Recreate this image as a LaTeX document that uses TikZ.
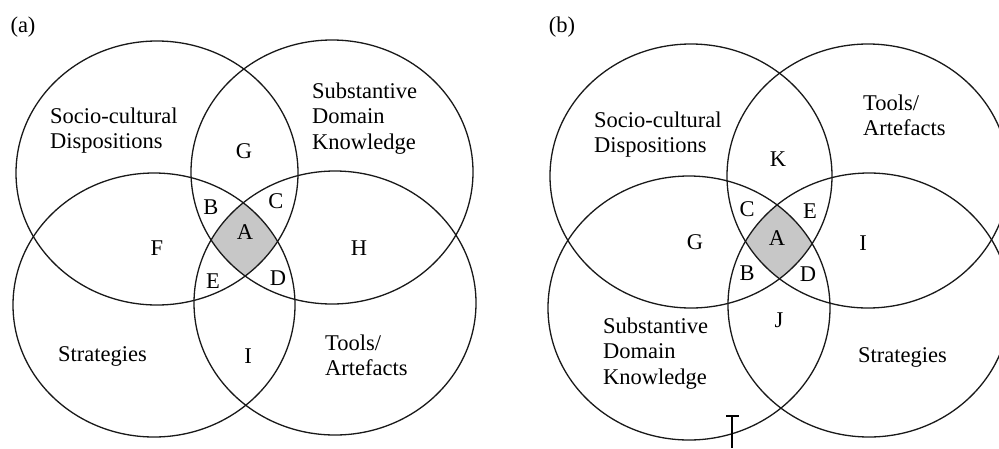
\documentclass[tikz,border=0pt]{standalone}
\usepackage{fontspec}
\setmainfont{Liberation Serif}
\begin{document}
\begin{tikzpicture}[x=1pt,y=-1pt,
  ring/.style={draw=black!90,line width=1.3pt},
  lbl/.style={inner sep=0pt,font=\fontsize{22.5}{25.5}\selectfont},
  blk/.style={lbl,align=left,anchor=north west}]
\useasboundingbox (0,0) rectangle (999,448);
\fill[white] (0,0) rectangle (999,448);
% ---------- panel (a) ----------
\begin{scope}
\clip (157,173) ellipse [x radius=141pt, y radius=132pt];
\clip (332,172) ellipse [x radius=141pt, y radius=132pt];
\clip (154,305) ellipse [x radius=141pt, y radius=132pt];
\fill[black!22] (335,303) ellipse [x radius=141pt, y radius=132pt];
\end{scope}
\draw[ring] (157,173) ellipse [x radius=141pt, y radius=132pt];
\draw[ring] (332,172) ellipse [x radius=141pt, y radius=132pt];
\draw[ring] (154,305) ellipse [x radius=141pt, y radius=132pt];
\draw[ring] (335,303) ellipse [x radius=141pt, y radius=132pt];
\node[lbl,anchor=center] (pa) at (23,27) {(a)};
\node[blk] (aSC) at (50,107.6) {Socio-cultural\\Dispositions};
\node[blk] (aSD) at (312,82.6) {Substantive\\Domain\\Knowledge};
\node[blk] (aST) at (58,346.6) {Strategies};
\node[blk] (aTA) at (325,334.4) {Tools/\\Artefacts};
\node[lbl] (aG) at (244,151) {G};
\node[lbl] (aB) at (211,207) {B};
\node[lbl] (aC) at (276,201) {C};
\node[lbl] (aA) at (245,232) {A};
\node[lbl] (aF) at (157,248) {F};
\node[lbl] (aH) at (359,248) {H};
\node[lbl] (aE) at (213,281) {E};
\node[lbl] (aD) at (278,278) {D};
\node[lbl] (aI) at (248,356) {I};
% ---------- panel (b) ----------
\begin{scope}
\clip (691,176) ellipse [x radius=141pt, y radius=132pt];
\clip (868,176) ellipse [x radius=141pt, y radius=132pt];
\clip (689,308) ellipse [x radius=141pt, y radius=132pt];
\fill[black!22] (869,305) ellipse [x radius=141pt, y radius=132pt];
\end{scope}
\draw[ring] (691,176) ellipse [x radius=141pt, y radius=132pt];
\draw[ring] (868,176) ellipse [x radius=141pt, y radius=132pt];
\draw[ring] (689,308) ellipse [x radius=141pt, y radius=132pt];
\draw[ring] (869,305) ellipse [x radius=141pt, y radius=132pt];
\node[lbl,anchor=center] (pb) at (562,27) {(b)};
\node[blk] (bSC) at (594,111.6) {Socio-cultural\\Dispositions};
\node[blk] (bTA) at (863,94.6) {Tools/\\Artefacts};
\node[blk] (bSD) at (603,317.6) {Substantive\\Domain\\Knowledge};
\node[blk] (bST) at (858,347.6) {Strategies};
\node[lbl] (bK) at (778,159) {K};
\node[lbl] (bC) at (747,209) {C};
\node[lbl] (bE) at (810,211) {E};
\node[lbl] (bA) at (777,238) {A};
\node[lbl] (bG) at (695,242) {G};
\node[lbl] (bI) at (863,243) {I};
\node[lbl] (bB) at (747,273) {B};
\node[lbl] (bD) at (808,274) {D};
\node[lbl] (bJ) at (779,320) {J};
% text cursor mark
\draw[line width=1.2pt] (732,416) -- (732,448);
\draw[line width=1.2pt] (726,416) -- (739,416);
\end{tikzpicture}
\end{document}
